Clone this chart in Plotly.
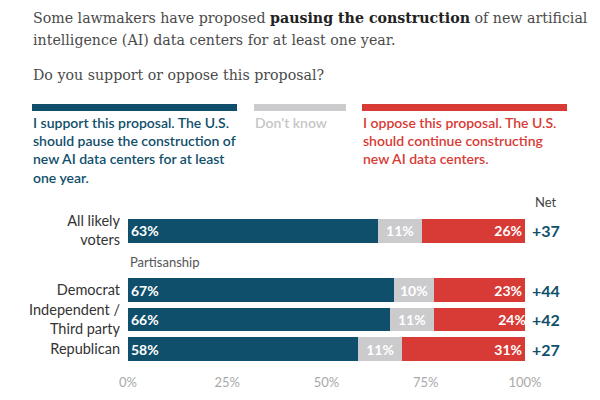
import plotly.graph_objects as go

# ---- data ----
groups = ["All likely voters", "Partisanship", "Democrat", "Independent / Third party", "Republican"]
group_labels = ["All likely<br>voters", "", "Democrat", "Independent /<br>Third party", "Republican"]
support = [63, None, 67, 66, 58]
dont_know = [11, None, 10, 11, 11]
oppose = [26, None, 23, 24, 31]
x_ticks = [0, 25, 50, 75, 100]
x_tick_labels = ["0%", "25%", "50%", "75%", "100%"]
section_label = "Partisanship"
legend_texts = [
    "I support this proposal. The U.S.<br>should pause the construction of<br>new AI data centers for at least<br>one year.",
    "Don't know",
    "I oppose this proposal. The U.S.<br>should continue constructing<br>new AI data centers.",
]
intro_lines = [
    "Some lawmakers have proposed <b style='color:#222'>pausing the construction</b> of new artificial",
    "intelligence (AI) data centers for at least one year.",
    "Do you support or oppose this proposal?",
]

BLUE = "#104f6b"
GRAY = "#cbcacc"
RED = "#d83a35"
SANS = "Lato, 'Open Sans', sans-serif"
SERIF = "'DejaVu Serif', serif"

W, H = 600, 400
L, R, T, B = 128, 75, 216, 36
PW, PH = W - L - R, H - T - B


def px(x):
    return (x - L) / PW


def py(y):
    return (H - B - y) / PH


def pct(v):
    return [None if a is None else f"{a}%" for a in v]


fig = go.Figure()
for vals, col, anchor in [(support, BLUE, "start"), (dont_know, GRAY, "middle"), (oppose, RED, "end")]:
    fig.add_trace(go.Bar(
        y=groups, x=vals, orientation="h", marker=dict(color=col, line=dict(width=0)),
        text=pct(vals), textposition="inside", insidetextanchor=anchor,
        textfont=dict(family=SANS, size=14, color="white", weight="bold"),
        width=0.8, hoverinfo="skip", showlegend=False,
    ))

annotations = []
# net column
annotations.append(dict(xref="paper", yref="paper", x=px(546), y=py(202), xanchor="center", yanchor="middle",
                        text="Net", showarrow=False, font=dict(family=SANS, size=13, color="#444")))
for g, s, o in zip(groups, support, oppose):
    if s is None:
        continue
    net = s - o
    annotations.append(dict(xref="paper", yref="y", x=px(546), y=g, xanchor="center", yanchor="middle",
                            text=f"<b>{net:+d}</b>",
                            showarrow=False, font=dict(family=SANS, size=16, color=BLUE)))
# section label
annotations.append(dict(xref="x", yref="y", x=0, y=section_label, xanchor="left", yshift=-2, text=section_label,
                        showarrow=False, font=dict(family=SANS, size=13, color="#555")))
# intro text
for txt, yy in zip(intro_lines, [18, 40, 75]):
    annotations.append(dict(xref="paper", yref="paper", x=px(31), y=py(yy), xanchor="left", yanchor="middle",
                            text=txt, showarrow=False, font=dict(family=SERIF, size=14.2, color="#4a4a4a")))

# legend
shapes = []
legend_spec = [(32, 237, BLUE, "#104f6b"), (254, 346, GRAY, "#c6c6c6"), (362, 567, RED, "#d83a35")]
for (x0, x1, col, tcol), txt in zip(legend_spec, legend_texts):
    shapes.append(dict(type="rect", xref="paper", yref="paper", x0=px(x0), x1=px(x1), y0=py(111), y1=py(104),
                       fillcolor=col, line=dict(width=0)))
    annotations.append(dict(xref="paper", yref="paper", x=px(x0 - 1), y=py(112), xanchor="left", yanchor="top",
                            align="left", text=txt, showarrow=False,
                            font=dict(family=SANS, size=14, color=tcol, weight=600)))

fig.update_layout(
    width=W, height=H, margin=dict(l=L, r=R, t=T, b=B, autoexpand=False),
    barmode="stack", bargap=0.2,
    plot_bgcolor="white", paper_bgcolor="white",
    xaxis=dict(range=[0, 100], tickvals=x_ticks, ticktext=x_tick_labels, showgrid=False, zeroline=False,
               showline=False, ticks="", ticklabelstandoff=9, automargin=False,
               tickfont=dict(family=SANS, size=13, color="#a9a9a9"), fixedrange=True),
    yaxis=dict(categoryorder="array", categoryarray=groups, tickvals=groups, ticktext=group_labels,
               autorange="reversed", showgrid=False, zeroline=False, showline=False, ticks="",
               ticklabelstandoff=7, automargin=False,
               tickfont=dict(family=SANS, size=14.5, color="#333"), fixedrange=True),
    uniformtext=dict(minsize=10, mode="show"),
    annotations=annotations, shapes=shapes,
)

fig.write_html("out.html")
